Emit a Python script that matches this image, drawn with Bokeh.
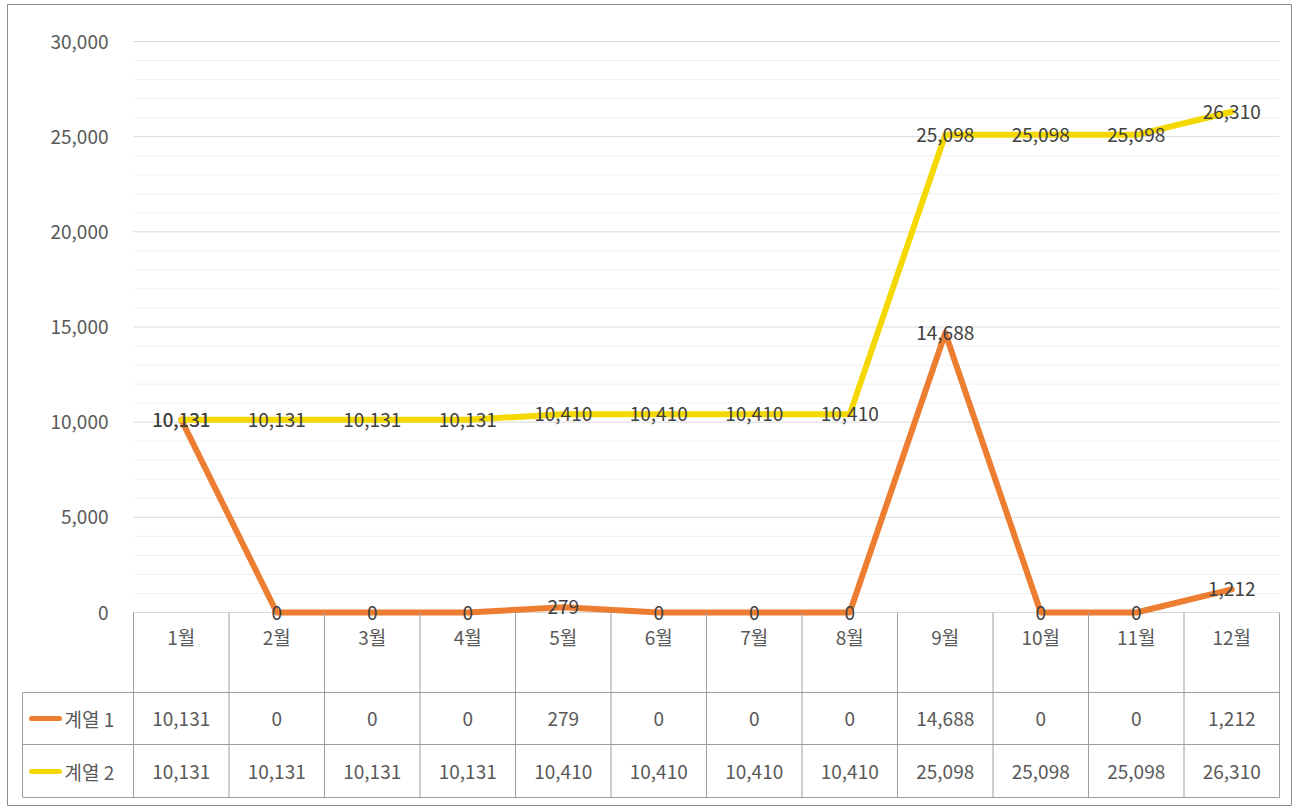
from bokeh.plotting import figure
from bokeh.models import Range1d
from bokeh.core.properties import value
from bokeh.embed import file_html
from bokeh.resources import INLINE

# ---------------- data ----------------
months = ["1월", "2월", "3월", "4월", "5월", "6월", "7월", "8월", "9월", "10월", "11월", "12월"]
series_names = ["계열 1", "계열 2"]
series1 = [10131, 0, 0, 0, 279, 0, 0, 0, 14688, 0, 0, 1212]
series2 = [10131, 10131, 10131, 10131, 10410, 10410, 10410, 10410, 25098, 25098, 25098, 26310]
y_ticks = [0, 5000, 10000, 15000, 20000, 25000, 30000]
y_minor_step = 1000

# ---------------- style ----------------
FONT = "Noto Sans CJK KR"
COLORS = ["#ED7D31", "#F5D800"]
TEXT_DARK = "#404040"
TEXT_GRAY = "#595959"
TABLE_LINE = "#9e9e9e"
FS = "19px"

n = len(months)
xs = [i + 0.5 for i in range(n)]
all_series = [series1, series2]
y_max = max(y_ticks)

# ---------------- layout (page pixels) ----------------
FIG_W, FIG_H = 1296, 806
FR_L, FR_R, FR_T, FR_B = 7, 1291, 4, 805          # frame = outer chart border
PLOT_L, PLOT_R = 133, 1279                         # plot area horizontally
Y_TOP_PX, Y_ZERO_PX = 41, 612                      # pixel rows of y_max and 0
ppu = (PLOT_R - PLOT_L) / n                        # pixels per category
k = (Y_ZERO_PX - Y_TOP_PX) / y_max                 # pixels per value unit

x_range = Range1d(-(PLOT_L - FR_L) / ppu, n + (FR_R - PLOT_R) / ppu)
y_range = Range1d(-(FR_B - Y_ZERO_PX) / k, y_max + (Y_TOP_PX - FR_T) / k)

p = figure(width=FIG_W, height=FIG_H, x_range=x_range, y_range=y_range,
           output_backend="svg", toolbar_location=None,
           x_axis_location=None, y_axis_location=None,
           min_border_left=FR_L, min_border_right=FIG_W - FR_R,
           min_border_top=FR_T, min_border_bottom=FIG_H - FR_B)
p.grid.visible = False
p.outline_line_color = "#8c8c8c"
p.outline_line_width = 1
p.background_fill_color = "white"
p.border_fill_color = "white"

# table coordinates: pixels from the top of the frame (flipped range)
p.extra_y_ranges = {"table": Range1d(FR_B - FR_T, 0)}

# ---------------- value axis: grid and labels ----------------
minor = [v for v in range(0, y_max + 1, y_minor_step) if v not in y_ticks]
p.segment(x0=[0] * len(minor), y0=minor, x1=[n] * len(minor), y1=minor,
          line_color="#f0f0f0", line_width=1)
p.segment(x0=[0] * len(y_ticks), y0=y_ticks, x1=[n] * len(y_ticks), y1=y_ticks,
          line_color="#d9d9d9", line_width=1)
p.text(x=[-25 / ppu] * len(y_ticks), y=y_ticks, text=[f"{v:,}" for v in y_ticks],
       text_align="right", text_baseline="middle", text_color=TEXT_GRAY,
       text_font=value(FONT), text_font_size=FS)

# ---------------- series ----------------
for vals, col in zip(all_series, COLORS):
    p.line(xs, vals, line_color=col, line_width=6, line_join="round", line_cap="round")

for vals in all_series:
    p.text(xs, vals, text=[f"{v:,}" for v in vals], text_align="center", text_baseline="middle",
           text_color=TEXT_DARK, text_font=value(FONT), text_font_size=FS)

# ---------------- data table ----------------
def ty(px):
    return px - FR_T

row_edges = [ty(692), ty(744), ty(797)]   # header bottom, row 1 bottom, row 2 bottom
header_top = ty(Y_ZERO_PX)
header_y = ty(636)
row_ys = [ty(718), ty(771)]
left_x = -(PLOT_L - 22) / ppu

tb = dict(y_range_name="table")
t_kw = dict(text_baseline="middle", text_color=TEXT_GRAY, text_font=value(FONT),
            text_font_size=FS, **tb)

# vertical cell borders
cols = list(range(n + 1))
p.segment(x0=cols, y0=[header_top] * (n + 1), x1=cols, y1=[row_edges[-1]] * (n + 1),
          line_color=TABLE_LINE, line_width=1, **tb)
p.segment(x0=[left_x], y0=[row_edges[0]], x1=[left_x], y1=[row_edges[-1]],
          line_color=TABLE_LINE, line_width=1, **tb)
# horizontal cell borders
p.segment(x0=[left_x] * 3, y0=row_edges, x1=[n] * 3, y1=row_edges,
          line_color=TABLE_LINE, line_width=1, **tb)

# header: category labels
p.text(xs, [header_y] * n, text=months, text_align="center", **t_kw)

sw0 = -(PLOT_L - 31) / ppu
sw1 = -(PLOT_L - 59) / ppu
lab_x = -(PLOT_L - 64) / ppu
for vals, col, name, ry in zip(all_series, COLORS, series_names, row_ys):
    p.line([sw0, sw1], [ry, ry], line_color=col, line_width=5, line_cap="round", **tb)
    p.text([lab_x], [ry], text=[name], text_align="left", **t_kw)
    p.text(xs, [ry] * n, text=[f"{v:,}" for v in vals], text_align="center", **t_kw)

open("out.html", "w").write(file_html(p, INLINE))
